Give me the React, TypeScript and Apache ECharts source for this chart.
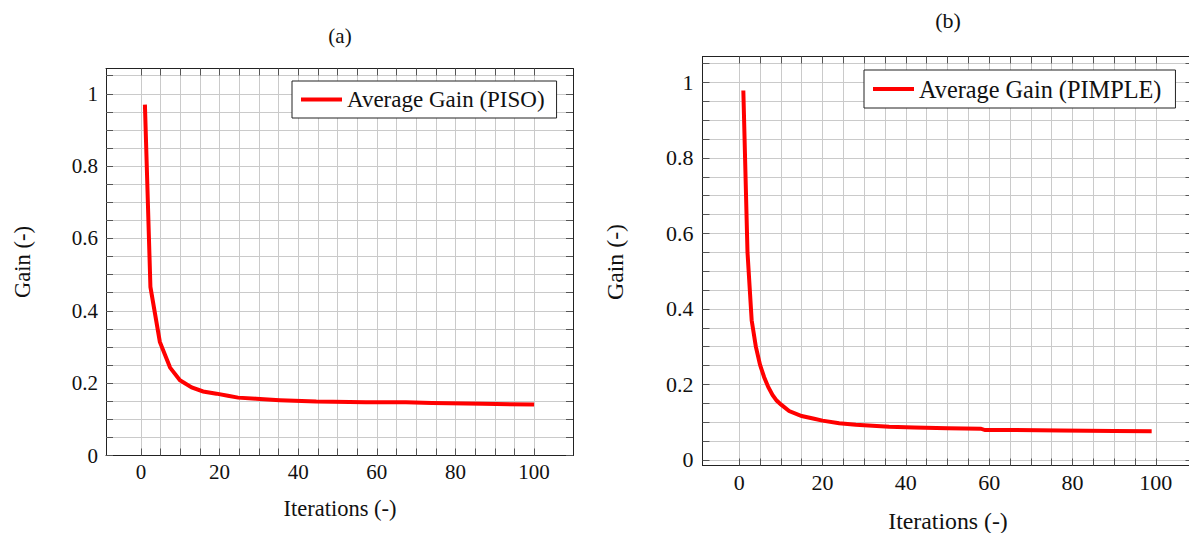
import React, { useEffect, useRef } from 'react';
import * as echarts from 'echarts';

const FONT = '"Liberation Serif", "Times New Roman", serif';

// Panel (a): average gain per iteration, PISO
const pisoIter = [1, 2.4, 4.8, 7.4, 9.9, 12.9, 15.8, 19.2, 22.1, 24.7, 29.3, 35.3, 44.6, 57.2, 67.4, 74, 86.8, 100];
const pisoGain = [0.97, 0.466, 0.314, 0.243, 0.208, 0.188, 0.177, 0.171, 0.165, 0.16, 0.157, 0.153, 0.149, 0.147, 0.147, 0.145, 0.143, 0.141];

// Panel (b): average gain per iteration, PIMPLE
const pimpleIter = [1, 2, 3, 4, 5, 6, 7, 8, 9, 10, 12, 15, 18, 20, 24, 28, 32, 36, 42, 50, 58, 59, 66, 77, 90, 99];
const pimpleGain = [0.979, 0.55, 0.37, 0.3, 0.252, 0.219, 0.1925, 0.172, 0.157, 0.147, 0.1295, 0.116, 0.109, 0.104, 0.097, 0.093, 0.0905, 0.088, 0.086, 0.084, 0.0825, 0.079, 0.079, 0.078, 0.0763, 0.0755];

// Tick and label positions
const xTickValues = [0, 5, 10, 15, 20, 25, 30, 35, 40, 45, 50, 55, 60, 65, 70, 75, 80, 85, 90, 95, 100];
const xLabelValues = [0, 20, 40, 60, 80, 100];
const yTickValues = [0, 0.05, 0.1, 0.15, 0.2, 0.25, 0.3, 0.35, 0.4, 0.45, 0.5, 0.55, 0.6, 0.65, 0.7, 0.75, 0.8, 0.85, 0.9, 0.95, 1, 1.05];
const yLabelValues = [0, 0.2, 0.4, 0.6, 0.8, 1];

const GRID_COLOR = '#cacaca';
const AXIS_COLOR = '#222';
const TICK_COLOR = '#555';

function xAxes(gridIndex: number, min: number, max: number, fontSize: number) {
  return [
    {
      type: 'value', gridIndex, min, max, position: 'bottom',
      axisLine: { show: true, onZero: false, lineStyle: { color: AXIS_COLOR, width: 1 } },
      axisTick: { show: true, inside: true, length: 7, customValues: xTickValues, lineStyle: { color: TICK_COLOR } },
      axisLabel: { show: true, customValues: xLabelValues, margin: 6, fontFamily: FONT, fontSize, color: '#111' },
      splitLine: { show: true, lineStyle: { color: GRID_COLOR, width: 1 } },
    },
    {
      type: 'value', gridIndex, min, max, position: 'top',
      axisLine: { show: true, onZero: false, lineStyle: { color: AXIS_COLOR, width: 1 } },
      axisTick: { show: true, inside: true, length: 7, customValues: xTickValues, lineStyle: { color: TICK_COLOR } },
      axisLabel: { show: false },
      splitLine: { show: false },
    },
  ];
}

function yAxes(gridIndex: number, min: number, max: number, fontSize: number, margin: number) {
  return [
    {
      type: 'value', gridIndex, min, max, position: 'left',
      axisLine: { show: true, onZero: false, lineStyle: { color: AXIS_COLOR, width: 1 } },
      axisTick: { show: true, inside: true, length: 7, customValues: yTickValues, lineStyle: { color: TICK_COLOR } },
      axisLabel: { show: true, customValues: yLabelValues, margin, fontFamily: FONT, fontSize, color: '#111' },
      splitLine: { show: true, lineStyle: { color: GRID_COLOR, width: 1 } },
    },
    {
      type: 'value', gridIndex, min, max, position: 'right',
      axisLine: { show: true, onZero: false, lineStyle: { color: AXIS_COLOR, width: 1 } },
      axisTick: { show: true, inside: true, length: 7, customValues: yTickValues, lineStyle: { color: TICK_COLOR } },
      axisLabel: { show: false },
      splitLine: { show: false },
    },
  ];
}

function legendFor(name: string, left: number, top: number, fontSize: number, padRight: number) {
  return {
    data: [name], left, top, orient: 'horizontal',
    icon: 'rect', itemWidth: 41, itemHeight: 4,
    backgroundColor: '#fff', borderColor: AXIS_COLOR, borderWidth: 1, borderRadius: 0,
    padding: [7, padRight, 7, 9],
    textStyle: { fontFamily: FONT, fontSize, color: '#111' },
  };
}

function text(t: string, x: number, y: number, fontSize: number, rotation = 0) {
  return {
    type: 'text', x, y, rotation,
    style: { text: t, fontFamily: FONT, fontSize, fill: '#111', align: 'center', verticalAlign: 'middle' },
  };
}

export default function App() {
  const ref = useRef<HTMLDivElement>(null);

  useEffect(() => {
    if (!ref.current) return;
    const chart = echarts.init(ref.current, null, { renderer: 'svg' });
    chart.setOption({
      animation: false,
      backgroundColor: '#fff',
      grid: [
        { left: 106, top: 68.5, width: 467, height: 387 },
        { left: 702.5, top: 56.5, width: 490, height: 409 },
      ],
      xAxis: [...xAxes(0, -8.9, 109.9, 21), ...xAxes(1, -8.8, 108.8, 22)],
      yAxis: [...yAxes(0, 0, 1.07, 21, 8), ...yAxes(1, -0.015, 1.069, 22, 9)],
      legend: [
        legendFor('Average Gain (PISO)', 292, 81, 23, 12),
        legendFor('Average Gain (PIMPLE)', 864, 70, 24.3, 14),
      ],
      series: [
        {
          type: 'line', name: 'Average Gain (PISO)', xAxisIndex: 0, yAxisIndex: 0,
          data: pisoIter.map((x, i) => [x, pisoGain[i]]),
          showSymbol: false, symbol: 'none', z: 5,
          lineStyle: { color: '#ff0000', width: 4, join: 'miter', cap: 'butt' },
          itemStyle: { color: '#ff0000' },
        },
        {
          type: 'line', name: 'Average Gain (PIMPLE)', xAxisIndex: 2, yAxisIndex: 2,
          data: pimpleIter.map((x, i) => [x, pimpleGain[i]]),
          showSymbol: false, symbol: 'none', z: 5,
          lineStyle: { color: '#ff0000', width: 4, join: 'miter', cap: 'butt' },
          itemStyle: { color: '#ff0000' },
        },
      ],
      graphic: [
        text('(a)', 340, 36, 21),
        text('(b)', 948, 20, 22),
        text('Iterations (-)', 340, 508, 22.5),
        text('Iterations (-)', 948, 521, 23.8),
        text('Gain (-)', 22, 262, 22.5, Math.PI / 2),
        text('Gain (-)', 615, 262, 23.8, Math.PI / 2),
      ],
    });
    return () => chart.dispose();
  }, []);

  return (
    <div
      ref={ref}
      style={{ position: 'fixed', left: 0, top: 0, width: 1200, height: 533, background: '#fff' }}
    />
  );
}
